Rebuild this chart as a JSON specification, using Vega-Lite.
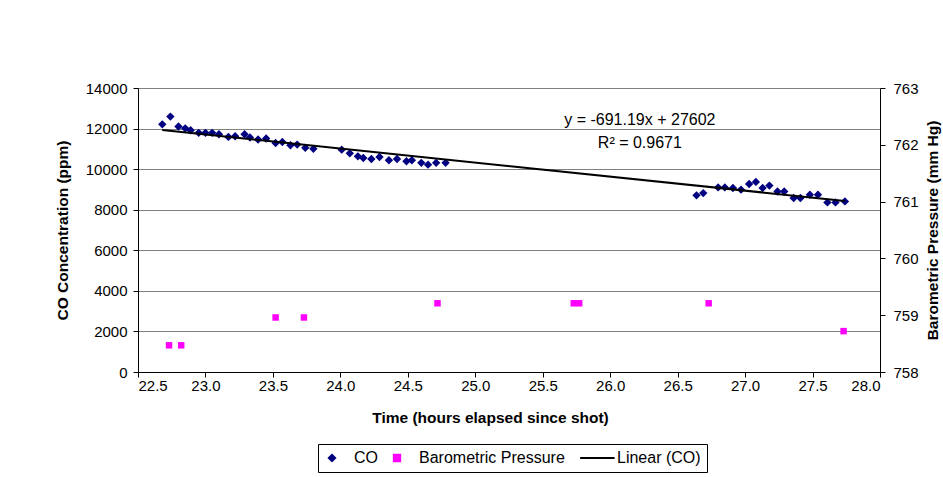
{
  "$schema": "https://vega.github.io/schema/vega-lite/v6.json",
  "autosize": "none",
  "width": 742,
  "height": 284,
  "padding": {"left": 138, "top": 88, "right": 63, "bottom": 105},
  "background": "white",
  "config": {
    "font": "Liberation Sans",
    "view": {"stroke": null},
    "axis": {
      "labelFont": "Liberation Sans", "labelFontSize": 15, "labelColor": "black",
      "titleFont": "Liberation Sans", "titleFontSize": 15.5, "titleFontWeight": "bold", "titleColor": "black",
      "domainColor": "black", "tickColor": "black", "tickSize": 5, "labelPadding": 6
    },
    "legend": {"labelFont": "Liberation Sans", "labelFontSize": 16, "labelColor": "black"}
  },
  "datasets": {
    "co": [
      {"t": 22.68, "v": 12210, "s": "CO"}, {"t": 22.74, "v": 12590, "s": "CO"}, {"t": 22.80, "v": 12100, "s": "CO"},
      {"t": 22.85, "v": 12010, "s": "CO"}, {"t": 22.89, "v": 11920, "s": "CO"}, {"t": 22.95, "v": 11790, "s": "CO"},
      {"t": 23.00, "v": 11790, "s": "CO"}, {"t": 23.05, "v": 11790, "s": "CO"}, {"t": 23.10, "v": 11720, "s": "CO"},
      {"t": 23.17, "v": 11590, "s": "CO"}, {"t": 23.22, "v": 11620, "s": "CO"}, {"t": 23.29, "v": 11720, "s": "CO"},
      {"t": 23.33, "v": 11560, "s": "CO"}, {"t": 23.39, "v": 11460, "s": "CO"}, {"t": 23.45, "v": 11510, "s": "CO"},
      {"t": 23.52, "v": 11290, "s": "CO"}, {"t": 23.57, "v": 11340, "s": "CO"}, {"t": 23.63, "v": 11180, "s": "CO"},
      {"t": 23.68, "v": 11210, "s": "CO"}, {"t": 23.74, "v": 11050, "s": "CO"}, {"t": 23.80, "v": 11000, "s": "CO"},
      {"t": 24.01, "v": 10960, "s": "CO"}, {"t": 24.07, "v": 10780, "s": "CO"}, {"t": 24.13, "v": 10630, "s": "CO"},
      {"t": 24.17, "v": 10550, "s": "CO"}, {"t": 24.23, "v": 10500, "s": "CO"}, {"t": 24.29, "v": 10600, "s": "CO"},
      {"t": 24.36, "v": 10440, "s": "CO"}, {"t": 24.42, "v": 10500, "s": "CO"}, {"t": 24.49, "v": 10390, "s": "CO"},
      {"t": 24.53, "v": 10440, "s": "CO"}, {"t": 24.60, "v": 10310, "s": "CO"}, {"t": 24.65, "v": 10220, "s": "CO"},
      {"t": 24.71, "v": 10310, "s": "CO"}, {"t": 24.78, "v": 10310, "s": "CO"},
      {"t": 26.64, "v": 8710, "s": "CO"}, {"t": 26.69, "v": 8820, "s": "CO"}, {"t": 26.80, "v": 9100, "s": "CO"},
      {"t": 26.85, "v": 9100, "s": "CO"}, {"t": 26.91, "v": 9070, "s": "CO"}, {"t": 26.97, "v": 8990, "s": "CO"},
      {"t": 27.03, "v": 9270, "s": "CO"}, {"t": 27.08, "v": 9370, "s": "CO"}, {"t": 27.13, "v": 9070, "s": "CO"},
      {"t": 27.18, "v": 9190, "s": "CO"}, {"t": 27.24, "v": 8900, "s": "CO"}, {"t": 27.29, "v": 8900, "s": "CO"},
      {"t": 27.36, "v": 8580, "s": "CO"}, {"t": 27.41, "v": 8580, "s": "CO"}, {"t": 27.48, "v": 8740, "s": "CO"},
      {"t": 27.54, "v": 8740, "s": "CO"}, {"t": 27.61, "v": 8360, "s": "CO"}, {"t": 27.67, "v": 8360, "s": "CO"},
      {"t": 27.74, "v": 8410, "s": "CO"}
    ],
    "trend": [
      {"t": 22.68, "v": 11926, "s": "Linear (CO)"},
      {"t": 27.74, "v": 8428, "s": "Linear (CO)"}
    ],
    "pressure": [
      {"t": 22.73, "p": 758.47, "s": "Barometric Pressure"}, {"t": 22.82, "p": 758.47, "s": "Barometric Pressure"},
      {"t": 23.52, "p": 758.96, "s": "Barometric Pressure"}, {"t": 23.73, "p": 758.96, "s": "Barometric Pressure"},
      {"t": 24.72, "p": 759.21, "s": "Barometric Pressure"}, {"t": 25.73, "p": 759.21, "s": "Barometric Pressure"},
      {"t": 25.77, "p": 759.21, "s": "Barometric Pressure"}, {"t": 26.73, "p": 759.21, "s": "Barometric Pressure"},
      {"t": 27.73, "p": 758.72, "s": "Barometric Pressure"}
    ],
    "labels": [
      {"t": 26.22, "v": 12440, "txt": "y = -691.19x + 27602"},
      {"t": 26.22, "v": 11310, "txt": "R² = 0.9671"}
    ]
  },
  "layer": [
    {
      "data": {"name": "co"},
      "mark": {"type": "point", "filled": true, "opacity": 1, "size": 70},
      "encoding": {
        "x": {"field": "t", "type": "quantitative", "scale": {"domain": [22.5, 28], "nice": false, "zero": false},
          "axis": {"title": "Time (hours elapsed since shot)", "values": [22.5, 23, 23.5, 24, 24.5, 25, 25.5, 26, 26.5, 27, 27.5, 28], "format": ".1f", "grid": false, "labelPadding": 1, "titlePadding": 17, "titleX": 352}},
        "y": {"field": "v", "type": "quantitative", "scale": {"domain": [0, 14000], "nice": false},
          "axis": {"title": "CO Concentration (ppm)", "values": [0, 2000, 4000, 6000, 8000, 10000, 12000, 14000], "format": "d", "grid": true, "gridColor": "#808080", "gridOpacity": 1, "labelPadding": 6, "titlePadding": 15}},
        "color": {"field": "s", "type": "nominal", "scale": {"domain": ["CO", "Barometric Pressure", "Linear (CO)"], "range": ["#000080", "#FF00FF", "#000000"]},
          "legend": {"title": null, "orient": "none", "legendX": 180, "legendY": 356, "direction": "horizontal", "strokeColor": "black", "padding": 6, "columnPadding": 11, "symbolSize": 40, "symbolStrokeWidth": 2, "labelOffset": 14}},
        "shape": {"field": "s", "type": "nominal", "scale": {"domain": ["CO", "Barometric Pressure", "Linear (CO)"], "range": ["diamond", "square", "M-4.7,0L6.2,0"]}}
      }
    },
    {
      "data": {"name": "trend"},
      "mark": {"type": "line", "strokeWidth": 2},
      "encoding": {
        "x": {"field": "t", "type": "quantitative"},
        "y": {"field": "v", "type": "quantitative", "scale": {"domain": [0, 14000], "nice": false}, "axis": null},
        "color": {"field": "s", "type": "nominal"}
      }
    },
    {
      "data": {"name": "labels"},
      "mark": {"type": "text", "fontSize": 16, "font": "Liberation Sans", "color": "black"},
      "encoding": {
        "x": {"field": "t", "type": "quantitative"},
        "y": {"field": "v", "type": "quantitative", "scale": {"domain": [0, 14000], "nice": false}, "axis": null},
        "text": {"field": "txt"}
      }
    },
    {
      "data": {"name": "pressure"},
      "mark": {"type": "point", "filled": true, "opacity": 1, "size": 42},
      "encoding": {
        "x": {"field": "t", "type": "quantitative"},
        "y": {"field": "p", "type": "quantitative", "scale": {"domain": [758, 763], "nice": false, "zero": false},
          "axis": {"orient": "right", "title": "Barometric Pressure (mm Hg)", "values": [758, 759, 760, 761, 762, 763], "grid": false, "titleAngle": -90, "labelPadding": 8, "titlePadding": 22}},
        "color": {"field": "s", "type": "nominal"},
        "shape": {"field": "s", "type": "nominal"}
      }
    }
  ],
  "resolve": {"scale": {"y": "independent"}}
}
